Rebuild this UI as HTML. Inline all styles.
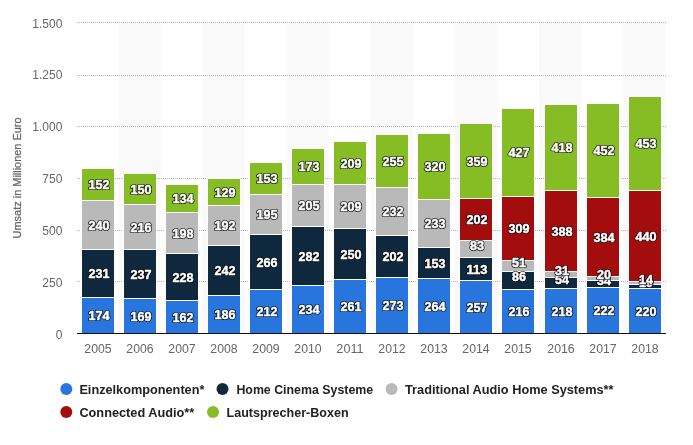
<!DOCTYPE html><html><head><meta charset="utf-8"><title>Chart</title><style>html,body{margin:0;padding:0;background:#fff}svg{display:block}text{font-family:"Liberation Sans",sans-serif}</style></head><body>
<svg width="693" height="445" viewBox="0 0 693 445">
<rect width="693" height="445" fill="#fff"/>
<rect x="118.47" y="22" width="42.07" height="311" fill="#F9F9F9"/>
<rect x="202.61" y="22" width="42.07" height="311" fill="#F9F9F9"/>
<rect x="286.76" y="22" width="42.07" height="311" fill="#F9F9F9"/>
<rect x="370.90" y="22" width="42.07" height="311" fill="#F9F9F9"/>
<rect x="455.04" y="22" width="42.07" height="311" fill="#F9F9F9"/>
<rect x="539.19" y="22" width="42.07" height="311" fill="#F9F9F9"/>
<rect x="623.33" y="22" width="42.07" height="311" fill="#F9F9F9"/>
<line x1="77" x2="666" y1="281.5" y2="281.5" stroke="#B4B4B4" stroke-width="1" stroke-dasharray="1,1"/>
<line x1="77" x2="666" y1="230.5" y2="230.5" stroke="#B4B4B4" stroke-width="1" stroke-dasharray="1,1"/>
<line x1="77" x2="666" y1="178.5" y2="178.5" stroke="#B4B4B4" stroke-width="1" stroke-dasharray="1,1"/>
<line x1="77" x2="666" y1="126.5" y2="126.5" stroke="#B4B4B4" stroke-width="1" stroke-dasharray="1,1"/>
<line x1="77" x2="666" y1="75.5" y2="75.5" stroke="#B4B4B4" stroke-width="1" stroke-dasharray="1,1"/>
<line x1="77" x2="666" y1="22.5" y2="22.5" stroke="#B4B4B4" stroke-width="1" stroke-dasharray="1,1"/>
<text x="62.4" y="338.6" text-anchor="end" font-size="12" fill="#666">0</text>
<text x="62.4" y="286.8" text-anchor="end" font-size="12" fill="#666">250</text>
<text x="62.4" y="234.9" text-anchor="end" font-size="12" fill="#666">500</text>
<text x="62.4" y="183.1" text-anchor="end" font-size="12" fill="#666">750</text>
<text x="62.4" y="131.3" text-anchor="end" font-size="12" fill="#666">1.000</text>
<text x="62.4" y="79.4" text-anchor="end" font-size="12" fill="#666">1.250</text>
<text x="62.4" y="27.6" text-anchor="end" font-size="12" fill="#666">1.500</text>
<text transform="translate(20.5,238.4) rotate(-90)" font-size="11" fill="#666" stroke="#666" stroke-width="0.25" textLength="121" lengthAdjust="spacingAndGlyphs">Umsatz in Millionen Euro</text>
<rect x="81.5" y="297.5" width="33" height="36.0" fill="#2875DD" stroke="#fff" stroke-width="1"/>
<rect x="81.5" y="249.5" width="33" height="48.0" fill="#0F283E" stroke="#fff" stroke-width="1"/>
<rect x="81.5" y="200.5" width="33" height="49.0" fill="#B9B9B9" stroke="#fff" stroke-width="1"/>
<rect x="81.5" y="168.5" width="33" height="32.0" fill="#86BC24" stroke="#fff" stroke-width="1"/>
<rect x="123.5" y="298.5" width="33" height="35.0" fill="#2875DD" stroke="#fff" stroke-width="1"/>
<rect x="123.5" y="249.5" width="33" height="49.0" fill="#0F283E" stroke="#fff" stroke-width="1"/>
<rect x="123.5" y="204.5" width="33" height="45.0" fill="#B9B9B9" stroke="#fff" stroke-width="1"/>
<rect x="123.5" y="173.5" width="33" height="31.0" fill="#86BC24" stroke="#fff" stroke-width="1"/>
<rect x="165.5" y="300.5" width="33" height="33.0" fill="#2875DD" stroke="#fff" stroke-width="1"/>
<rect x="165.5" y="253.5" width="33" height="47.0" fill="#0F283E" stroke="#fff" stroke-width="1"/>
<rect x="165.5" y="212.5" width="33" height="41.0" fill="#B9B9B9" stroke="#fff" stroke-width="1"/>
<rect x="165.5" y="184.5" width="33" height="28.0" fill="#86BC24" stroke="#fff" stroke-width="1"/>
<rect x="207.5" y="295.5" width="33" height="38.0" fill="#2875DD" stroke="#fff" stroke-width="1"/>
<rect x="207.5" y="245.5" width="33" height="50.0" fill="#0F283E" stroke="#fff" stroke-width="1"/>
<rect x="207.5" y="205.5" width="33" height="40.0" fill="#B9B9B9" stroke="#fff" stroke-width="1"/>
<rect x="207.5" y="178.5" width="33" height="27.0" fill="#86BC24" stroke="#fff" stroke-width="1"/>
<rect x="249.5" y="289.5" width="33" height="44.0" fill="#2875DD" stroke="#fff" stroke-width="1"/>
<rect x="249.5" y="234.5" width="33" height="55.0" fill="#0F283E" stroke="#fff" stroke-width="1"/>
<rect x="249.5" y="194.5" width="33" height="40.0" fill="#B9B9B9" stroke="#fff" stroke-width="1"/>
<rect x="249.5" y="162.5" width="33" height="32.0" fill="#86BC24" stroke="#fff" stroke-width="1"/>
<rect x="291.5" y="285.5" width="33" height="48.0" fill="#2875DD" stroke="#fff" stroke-width="1"/>
<rect x="291.5" y="226.5" width="33" height="59.0" fill="#0F283E" stroke="#fff" stroke-width="1"/>
<rect x="291.5" y="184.5" width="33" height="42.0" fill="#B9B9B9" stroke="#fff" stroke-width="1"/>
<rect x="291.5" y="148.5" width="33" height="36.0" fill="#86BC24" stroke="#fff" stroke-width="1"/>
<rect x="333.5" y="279.5" width="33" height="54.0" fill="#2875DD" stroke="#fff" stroke-width="1"/>
<rect x="333.5" y="228.5" width="33" height="51.0" fill="#0F283E" stroke="#fff" stroke-width="1"/>
<rect x="333.5" y="184.5" width="33" height="44.0" fill="#B9B9B9" stroke="#fff" stroke-width="1"/>
<rect x="333.5" y="141.5" width="33" height="43.0" fill="#86BC24" stroke="#fff" stroke-width="1"/>
<rect x="375.5" y="277.5" width="33" height="56.0" fill="#2875DD" stroke="#fff" stroke-width="1"/>
<rect x="375.5" y="235.5" width="33" height="42.0" fill="#0F283E" stroke="#fff" stroke-width="1"/>
<rect x="375.5" y="187.5" width="33" height="48.0" fill="#B9B9B9" stroke="#fff" stroke-width="1"/>
<rect x="375.5" y="134.5" width="33" height="53.0" fill="#86BC24" stroke="#fff" stroke-width="1"/>
<rect x="417.5" y="278.5" width="33" height="55.0" fill="#2875DD" stroke="#fff" stroke-width="1"/>
<rect x="417.5" y="247.5" width="33" height="31.0" fill="#0F283E" stroke="#fff" stroke-width="1"/>
<rect x="417.5" y="199.5" width="33" height="48.0" fill="#B9B9B9" stroke="#fff" stroke-width="1"/>
<rect x="417.5" y="133.5" width="33" height="66.0" fill="#86BC24" stroke="#fff" stroke-width="1"/>
<rect x="459.5" y="280.5" width="33" height="53.0" fill="#2875DD" stroke="#fff" stroke-width="1"/>
<rect x="459.5" y="257.5" width="33" height="23.0" fill="#0F283E" stroke="#fff" stroke-width="1"/>
<rect x="459.5" y="240.5" width="33" height="17.0" fill="#B9B9B9" stroke="#fff" stroke-width="1"/>
<rect x="459.5" y="198.5" width="33" height="42.0" fill="#A40D0D" stroke="#fff" stroke-width="1"/>
<rect x="459.5" y="123.5" width="33" height="75.0" fill="#86BC24" stroke="#fff" stroke-width="1"/>
<rect x="501.5" y="289.5" width="33" height="44.0" fill="#2875DD" stroke="#fff" stroke-width="1"/>
<rect x="501.5" y="271.5" width="33" height="18.0" fill="#0F283E" stroke="#fff" stroke-width="1"/>
<rect x="501.5" y="260.5" width="33" height="11.0" fill="#B9B9B9" stroke="#fff" stroke-width="1"/>
<rect x="501.5" y="196.5" width="33" height="64.0" fill="#A40D0D" stroke="#fff" stroke-width="1"/>
<rect x="501.5" y="108.5" width="33" height="88.0" fill="#86BC24" stroke="#fff" stroke-width="1"/>
<rect x="544.5" y="288.5" width="33" height="45.0" fill="#2875DD" stroke="#fff" stroke-width="1"/>
<rect x="544.5" y="277.5" width="33" height="11.0" fill="#0F283E" stroke="#fff" stroke-width="1"/>
<rect x="544.5" y="271.5" width="33" height="6.0" fill="#B9B9B9" stroke="#fff" stroke-width="1"/>
<rect x="544.5" y="190.5" width="33" height="81.0" fill="#A40D0D" stroke="#fff" stroke-width="1"/>
<rect x="544.5" y="104.5" width="33" height="86.0" fill="#86BC24" stroke="#fff" stroke-width="1"/>
<rect x="586.5" y="287.5" width="33" height="46.0" fill="#2875DD" stroke="#fff" stroke-width="1"/>
<rect x="586.5" y="280.5" width="33" height="7.0" fill="#0F283E" stroke="#fff" stroke-width="1"/>
<rect x="586.5" y="276.5" width="33" height="4.0" fill="#B9B9B9" stroke="#fff" stroke-width="1"/>
<rect x="586.5" y="197.5" width="33" height="79.0" fill="#A40D0D" stroke="#fff" stroke-width="1"/>
<rect x="586.5" y="103.5" width="33" height="94.0" fill="#86BC24" stroke="#fff" stroke-width="1"/>
<rect x="628.5" y="288.5" width="33" height="45.0" fill="#2875DD" stroke="#fff" stroke-width="1"/>
<rect x="628.5" y="284.5" width="33" height="4.0" fill="#0F283E" stroke="#fff" stroke-width="1"/>
<rect x="628.5" y="281.5" width="33" height="3.0" fill="#B9B9B9" stroke="#fff" stroke-width="1"/>
<rect x="628.5" y="190.5" width="33" height="91.0" fill="#A40D0D" stroke="#fff" stroke-width="1"/>
<rect x="628.5" y="96.5" width="33" height="94.0" fill="#86BC24" stroke="#fff" stroke-width="1"/>
<line x1="77" x2="666" y1="333.5" y2="333.5" stroke="#111" stroke-width="1.2"/>
<text x="99.0" y="320.1" text-anchor="middle" font-size="12" font-weight="bold" fill="#000" stroke="#000" stroke-opacity="0.8" stroke-width="2.1" stroke-linejoin="round" textLength="21.0" lengthAdjust="spacingAndGlyphs">174</text>
<text x="99.0" y="320.1" text-anchor="middle" font-size="12" font-weight="bold" fill="#fff" stroke="#fff" stroke-width="0.45" stroke-linejoin="round" textLength="21.0" lengthAdjust="spacingAndGlyphs">174</text>
<text x="99.0" y="278.1" text-anchor="middle" font-size="12" font-weight="bold" fill="#000" stroke="#000" stroke-opacity="0.8" stroke-width="2.1" stroke-linejoin="round" textLength="21.0" lengthAdjust="spacingAndGlyphs">231</text>
<text x="99.0" y="278.1" text-anchor="middle" font-size="12" font-weight="bold" fill="#fff" stroke="#fff" stroke-width="0.45" stroke-linejoin="round" textLength="21.0" lengthAdjust="spacingAndGlyphs">231</text>
<text x="99.0" y="229.6" text-anchor="middle" font-size="12" font-weight="bold" fill="#000" stroke="#000" stroke-opacity="0.8" stroke-width="2.1" stroke-linejoin="round" textLength="21.0" lengthAdjust="spacingAndGlyphs">240</text>
<text x="99.0" y="229.6" text-anchor="middle" font-size="12" font-weight="bold" fill="#fff" stroke="#fff" stroke-width="0.45" stroke-linejoin="round" textLength="21.0" lengthAdjust="spacingAndGlyphs">240</text>
<text x="99.0" y="189.1" text-anchor="middle" font-size="12" font-weight="bold" fill="#000" stroke="#000" stroke-opacity="0.8" stroke-width="2.1" stroke-linejoin="round" textLength="21.0" lengthAdjust="spacingAndGlyphs">152</text>
<text x="99.0" y="189.1" text-anchor="middle" font-size="12" font-weight="bold" fill="#fff" stroke="#fff" stroke-width="0.45" stroke-linejoin="round" textLength="21.0" lengthAdjust="spacingAndGlyphs">152</text>
<text x="141.0" y="320.6" text-anchor="middle" font-size="12" font-weight="bold" fill="#000" stroke="#000" stroke-opacity="0.8" stroke-width="2.1" stroke-linejoin="round" textLength="21.0" lengthAdjust="spacingAndGlyphs">169</text>
<text x="141.0" y="320.6" text-anchor="middle" font-size="12" font-weight="bold" fill="#fff" stroke="#fff" stroke-width="0.45" stroke-linejoin="round" textLength="21.0" lengthAdjust="spacingAndGlyphs">169</text>
<text x="141.0" y="278.6" text-anchor="middle" font-size="12" font-weight="bold" fill="#000" stroke="#000" stroke-opacity="0.8" stroke-width="2.1" stroke-linejoin="round" textLength="21.0" lengthAdjust="spacingAndGlyphs">237</text>
<text x="141.0" y="278.6" text-anchor="middle" font-size="12" font-weight="bold" fill="#fff" stroke="#fff" stroke-width="0.45" stroke-linejoin="round" textLength="21.0" lengthAdjust="spacingAndGlyphs">237</text>
<text x="141.0" y="231.6" text-anchor="middle" font-size="12" font-weight="bold" fill="#000" stroke="#000" stroke-opacity="0.8" stroke-width="2.1" stroke-linejoin="round" textLength="21.0" lengthAdjust="spacingAndGlyphs">216</text>
<text x="141.0" y="231.6" text-anchor="middle" font-size="12" font-weight="bold" fill="#fff" stroke="#fff" stroke-width="0.45" stroke-linejoin="round" textLength="21.0" lengthAdjust="spacingAndGlyphs">216</text>
<text x="141.0" y="193.6" text-anchor="middle" font-size="12" font-weight="bold" fill="#000" stroke="#000" stroke-opacity="0.8" stroke-width="2.1" stroke-linejoin="round" textLength="21.0" lengthAdjust="spacingAndGlyphs">150</text>
<text x="141.0" y="193.6" text-anchor="middle" font-size="12" font-weight="bold" fill="#fff" stroke="#fff" stroke-width="0.45" stroke-linejoin="round" textLength="21.0" lengthAdjust="spacingAndGlyphs">150</text>
<text x="183.0" y="321.6" text-anchor="middle" font-size="12" font-weight="bold" fill="#000" stroke="#000" stroke-opacity="0.8" stroke-width="2.1" stroke-linejoin="round" textLength="21.0" lengthAdjust="spacingAndGlyphs">162</text>
<text x="183.0" y="321.6" text-anchor="middle" font-size="12" font-weight="bold" fill="#fff" stroke="#fff" stroke-width="0.45" stroke-linejoin="round" textLength="21.0" lengthAdjust="spacingAndGlyphs">162</text>
<text x="183.0" y="281.6" text-anchor="middle" font-size="12" font-weight="bold" fill="#000" stroke="#000" stroke-opacity="0.8" stroke-width="2.1" stroke-linejoin="round" textLength="21.0" lengthAdjust="spacingAndGlyphs">228</text>
<text x="183.0" y="281.6" text-anchor="middle" font-size="12" font-weight="bold" fill="#fff" stroke="#fff" stroke-width="0.45" stroke-linejoin="round" textLength="21.0" lengthAdjust="spacingAndGlyphs">228</text>
<text x="183.0" y="237.6" text-anchor="middle" font-size="12" font-weight="bold" fill="#000" stroke="#000" stroke-opacity="0.8" stroke-width="2.1" stroke-linejoin="round" textLength="21.0" lengthAdjust="spacingAndGlyphs">198</text>
<text x="183.0" y="237.6" text-anchor="middle" font-size="12" font-weight="bold" fill="#fff" stroke="#fff" stroke-width="0.45" stroke-linejoin="round" textLength="21.0" lengthAdjust="spacingAndGlyphs">198</text>
<text x="183.0" y="203.1" text-anchor="middle" font-size="12" font-weight="bold" fill="#000" stroke="#000" stroke-opacity="0.8" stroke-width="2.1" stroke-linejoin="round" textLength="21.0" lengthAdjust="spacingAndGlyphs">134</text>
<text x="183.0" y="203.1" text-anchor="middle" font-size="12" font-weight="bold" fill="#fff" stroke="#fff" stroke-width="0.45" stroke-linejoin="round" textLength="21.0" lengthAdjust="spacingAndGlyphs">134</text>
<text x="225.0" y="319.1" text-anchor="middle" font-size="12" font-weight="bold" fill="#000" stroke="#000" stroke-opacity="0.8" stroke-width="2.1" stroke-linejoin="round" textLength="21.0" lengthAdjust="spacingAndGlyphs">186</text>
<text x="225.0" y="319.1" text-anchor="middle" font-size="12" font-weight="bold" fill="#fff" stroke="#fff" stroke-width="0.45" stroke-linejoin="round" textLength="21.0" lengthAdjust="spacingAndGlyphs">186</text>
<text x="225.0" y="275.1" text-anchor="middle" font-size="12" font-weight="bold" fill="#000" stroke="#000" stroke-opacity="0.8" stroke-width="2.1" stroke-linejoin="round" textLength="21.0" lengthAdjust="spacingAndGlyphs">242</text>
<text x="225.0" y="275.1" text-anchor="middle" font-size="12" font-weight="bold" fill="#fff" stroke="#fff" stroke-width="0.45" stroke-linejoin="round" textLength="21.0" lengthAdjust="spacingAndGlyphs">242</text>
<text x="225.0" y="230.1" text-anchor="middle" font-size="12" font-weight="bold" fill="#000" stroke="#000" stroke-opacity="0.8" stroke-width="2.1" stroke-linejoin="round" textLength="21.0" lengthAdjust="spacingAndGlyphs">192</text>
<text x="225.0" y="230.1" text-anchor="middle" font-size="12" font-weight="bold" fill="#fff" stroke="#fff" stroke-width="0.45" stroke-linejoin="round" textLength="21.0" lengthAdjust="spacingAndGlyphs">192</text>
<text x="225.0" y="196.6" text-anchor="middle" font-size="12" font-weight="bold" fill="#000" stroke="#000" stroke-opacity="0.8" stroke-width="2.1" stroke-linejoin="round" textLength="21.0" lengthAdjust="spacingAndGlyphs">129</text>
<text x="225.0" y="196.6" text-anchor="middle" font-size="12" font-weight="bold" fill="#fff" stroke="#fff" stroke-width="0.45" stroke-linejoin="round" textLength="21.0" lengthAdjust="spacingAndGlyphs">129</text>
<text x="267.0" y="316.1" text-anchor="middle" font-size="12" font-weight="bold" fill="#000" stroke="#000" stroke-opacity="0.8" stroke-width="2.1" stroke-linejoin="round" textLength="21.0" lengthAdjust="spacingAndGlyphs">212</text>
<text x="267.0" y="316.1" text-anchor="middle" font-size="12" font-weight="bold" fill="#fff" stroke="#fff" stroke-width="0.45" stroke-linejoin="round" textLength="21.0" lengthAdjust="spacingAndGlyphs">212</text>
<text x="267.0" y="266.6" text-anchor="middle" font-size="12" font-weight="bold" fill="#000" stroke="#000" stroke-opacity="0.8" stroke-width="2.1" stroke-linejoin="round" textLength="21.0" lengthAdjust="spacingAndGlyphs">266</text>
<text x="267.0" y="266.6" text-anchor="middle" font-size="12" font-weight="bold" fill="#fff" stroke="#fff" stroke-width="0.45" stroke-linejoin="round" textLength="21.0" lengthAdjust="spacingAndGlyphs">266</text>
<text x="267.0" y="219.1" text-anchor="middle" font-size="12" font-weight="bold" fill="#000" stroke="#000" stroke-opacity="0.8" stroke-width="2.1" stroke-linejoin="round" textLength="21.0" lengthAdjust="spacingAndGlyphs">195</text>
<text x="267.0" y="219.1" text-anchor="middle" font-size="12" font-weight="bold" fill="#fff" stroke="#fff" stroke-width="0.45" stroke-linejoin="round" textLength="21.0" lengthAdjust="spacingAndGlyphs">195</text>
<text x="267.0" y="183.1" text-anchor="middle" font-size="12" font-weight="bold" fill="#000" stroke="#000" stroke-opacity="0.8" stroke-width="2.1" stroke-linejoin="round" textLength="21.0" lengthAdjust="spacingAndGlyphs">153</text>
<text x="267.0" y="183.1" text-anchor="middle" font-size="12" font-weight="bold" fill="#fff" stroke="#fff" stroke-width="0.45" stroke-linejoin="round" textLength="21.0" lengthAdjust="spacingAndGlyphs">153</text>
<text x="309.0" y="314.1" text-anchor="middle" font-size="12" font-weight="bold" fill="#000" stroke="#000" stroke-opacity="0.8" stroke-width="2.1" stroke-linejoin="round" textLength="21.0" lengthAdjust="spacingAndGlyphs">234</text>
<text x="309.0" y="314.1" text-anchor="middle" font-size="12" font-weight="bold" fill="#fff" stroke="#fff" stroke-width="0.45" stroke-linejoin="round" textLength="21.0" lengthAdjust="spacingAndGlyphs">234</text>
<text x="309.0" y="260.6" text-anchor="middle" font-size="12" font-weight="bold" fill="#000" stroke="#000" stroke-opacity="0.8" stroke-width="2.1" stroke-linejoin="round" textLength="21.0" lengthAdjust="spacingAndGlyphs">282</text>
<text x="309.0" y="260.6" text-anchor="middle" font-size="12" font-weight="bold" fill="#fff" stroke="#fff" stroke-width="0.45" stroke-linejoin="round" textLength="21.0" lengthAdjust="spacingAndGlyphs">282</text>
<text x="309.0" y="210.1" text-anchor="middle" font-size="12" font-weight="bold" fill="#000" stroke="#000" stroke-opacity="0.8" stroke-width="2.1" stroke-linejoin="round" textLength="21.0" lengthAdjust="spacingAndGlyphs">205</text>
<text x="309.0" y="210.1" text-anchor="middle" font-size="12" font-weight="bold" fill="#fff" stroke="#fff" stroke-width="0.45" stroke-linejoin="round" textLength="21.0" lengthAdjust="spacingAndGlyphs">205</text>
<text x="309.0" y="171.1" text-anchor="middle" font-size="12" font-weight="bold" fill="#000" stroke="#000" stroke-opacity="0.8" stroke-width="2.1" stroke-linejoin="round" textLength="21.0" lengthAdjust="spacingAndGlyphs">173</text>
<text x="309.0" y="171.1" text-anchor="middle" font-size="12" font-weight="bold" fill="#fff" stroke="#fff" stroke-width="0.45" stroke-linejoin="round" textLength="21.0" lengthAdjust="spacingAndGlyphs">173</text>
<text x="351.0" y="311.1" text-anchor="middle" font-size="12" font-weight="bold" fill="#000" stroke="#000" stroke-opacity="0.8" stroke-width="2.1" stroke-linejoin="round" textLength="21.0" lengthAdjust="spacingAndGlyphs">261</text>
<text x="351.0" y="311.1" text-anchor="middle" font-size="12" font-weight="bold" fill="#fff" stroke="#fff" stroke-width="0.45" stroke-linejoin="round" textLength="21.0" lengthAdjust="spacingAndGlyphs">261</text>
<text x="351.0" y="258.6" text-anchor="middle" font-size="12" font-weight="bold" fill="#000" stroke="#000" stroke-opacity="0.8" stroke-width="2.1" stroke-linejoin="round" textLength="21.0" lengthAdjust="spacingAndGlyphs">250</text>
<text x="351.0" y="258.6" text-anchor="middle" font-size="12" font-weight="bold" fill="#fff" stroke="#fff" stroke-width="0.45" stroke-linejoin="round" textLength="21.0" lengthAdjust="spacingAndGlyphs">250</text>
<text x="351.0" y="211.1" text-anchor="middle" font-size="12" font-weight="bold" fill="#000" stroke="#000" stroke-opacity="0.8" stroke-width="2.1" stroke-linejoin="round" textLength="21.0" lengthAdjust="spacingAndGlyphs">209</text>
<text x="351.0" y="211.1" text-anchor="middle" font-size="12" font-weight="bold" fill="#fff" stroke="#fff" stroke-width="0.45" stroke-linejoin="round" textLength="21.0" lengthAdjust="spacingAndGlyphs">209</text>
<text x="351.0" y="167.6" text-anchor="middle" font-size="12" font-weight="bold" fill="#000" stroke="#000" stroke-opacity="0.8" stroke-width="2.1" stroke-linejoin="round" textLength="21.0" lengthAdjust="spacingAndGlyphs">209</text>
<text x="351.0" y="167.6" text-anchor="middle" font-size="12" font-weight="bold" fill="#fff" stroke="#fff" stroke-width="0.45" stroke-linejoin="round" textLength="21.0" lengthAdjust="spacingAndGlyphs">209</text>
<text x="393.0" y="310.1" text-anchor="middle" font-size="12" font-weight="bold" fill="#000" stroke="#000" stroke-opacity="0.8" stroke-width="2.1" stroke-linejoin="round" textLength="21.0" lengthAdjust="spacingAndGlyphs">273</text>
<text x="393.0" y="310.1" text-anchor="middle" font-size="12" font-weight="bold" fill="#fff" stroke="#fff" stroke-width="0.45" stroke-linejoin="round" textLength="21.0" lengthAdjust="spacingAndGlyphs">273</text>
<text x="393.0" y="261.1" text-anchor="middle" font-size="12" font-weight="bold" fill="#000" stroke="#000" stroke-opacity="0.8" stroke-width="2.1" stroke-linejoin="round" textLength="21.0" lengthAdjust="spacingAndGlyphs">202</text>
<text x="393.0" y="261.1" text-anchor="middle" font-size="12" font-weight="bold" fill="#fff" stroke="#fff" stroke-width="0.45" stroke-linejoin="round" textLength="21.0" lengthAdjust="spacingAndGlyphs">202</text>
<text x="393.0" y="216.1" text-anchor="middle" font-size="12" font-weight="bold" fill="#000" stroke="#000" stroke-opacity="0.8" stroke-width="2.1" stroke-linejoin="round" textLength="21.0" lengthAdjust="spacingAndGlyphs">232</text>
<text x="393.0" y="216.1" text-anchor="middle" font-size="12" font-weight="bold" fill="#fff" stroke="#fff" stroke-width="0.45" stroke-linejoin="round" textLength="21.0" lengthAdjust="spacingAndGlyphs">232</text>
<text x="393.0" y="165.6" text-anchor="middle" font-size="12" font-weight="bold" fill="#000" stroke="#000" stroke-opacity="0.8" stroke-width="2.1" stroke-linejoin="round" textLength="21.0" lengthAdjust="spacingAndGlyphs">255</text>
<text x="393.0" y="165.6" text-anchor="middle" font-size="12" font-weight="bold" fill="#fff" stroke="#fff" stroke-width="0.45" stroke-linejoin="round" textLength="21.0" lengthAdjust="spacingAndGlyphs">255</text>
<text x="435.0" y="310.6" text-anchor="middle" font-size="12" font-weight="bold" fill="#000" stroke="#000" stroke-opacity="0.8" stroke-width="2.1" stroke-linejoin="round" textLength="21.0" lengthAdjust="spacingAndGlyphs">264</text>
<text x="435.0" y="310.6" text-anchor="middle" font-size="12" font-weight="bold" fill="#fff" stroke="#fff" stroke-width="0.45" stroke-linejoin="round" textLength="21.0" lengthAdjust="spacingAndGlyphs">264</text>
<text x="435.0" y="267.6" text-anchor="middle" font-size="12" font-weight="bold" fill="#000" stroke="#000" stroke-opacity="0.8" stroke-width="2.1" stroke-linejoin="round" textLength="21.0" lengthAdjust="spacingAndGlyphs">153</text>
<text x="435.0" y="267.6" text-anchor="middle" font-size="12" font-weight="bold" fill="#fff" stroke="#fff" stroke-width="0.45" stroke-linejoin="round" textLength="21.0" lengthAdjust="spacingAndGlyphs">153</text>
<text x="435.0" y="228.1" text-anchor="middle" font-size="12" font-weight="bold" fill="#000" stroke="#000" stroke-opacity="0.8" stroke-width="2.1" stroke-linejoin="round" textLength="21.0" lengthAdjust="spacingAndGlyphs">233</text>
<text x="435.0" y="228.1" text-anchor="middle" font-size="12" font-weight="bold" fill="#fff" stroke="#fff" stroke-width="0.45" stroke-linejoin="round" textLength="21.0" lengthAdjust="spacingAndGlyphs">233</text>
<text x="435.0" y="171.1" text-anchor="middle" font-size="12" font-weight="bold" fill="#000" stroke="#000" stroke-opacity="0.8" stroke-width="2.1" stroke-linejoin="round" textLength="21.0" lengthAdjust="spacingAndGlyphs">320</text>
<text x="435.0" y="171.1" text-anchor="middle" font-size="12" font-weight="bold" fill="#fff" stroke="#fff" stroke-width="0.45" stroke-linejoin="round" textLength="21.0" lengthAdjust="spacingAndGlyphs">320</text>
<text x="477.0" y="311.6" text-anchor="middle" font-size="12" font-weight="bold" fill="#000" stroke="#000" stroke-opacity="0.8" stroke-width="2.1" stroke-linejoin="round" textLength="21.0" lengthAdjust="spacingAndGlyphs">257</text>
<text x="477.0" y="311.6" text-anchor="middle" font-size="12" font-weight="bold" fill="#fff" stroke="#fff" stroke-width="0.45" stroke-linejoin="round" textLength="21.0" lengthAdjust="spacingAndGlyphs">257</text>
<text x="477.0" y="273.6" text-anchor="middle" font-size="12" font-weight="bold" fill="#000" stroke="#000" stroke-opacity="0.8" stroke-width="2.1" stroke-linejoin="round" textLength="21.0" lengthAdjust="spacingAndGlyphs">113</text>
<text x="477.0" y="273.6" text-anchor="middle" font-size="12" font-weight="bold" fill="#fff" stroke="#fff" stroke-width="0.45" stroke-linejoin="round" textLength="21.0" lengthAdjust="spacingAndGlyphs">113</text>
<text x="477.0" y="249.7" text-anchor="middle" font-size="12" font-weight="bold" fill="#000" stroke="#000" stroke-opacity="0.8" stroke-width="2.1" stroke-linejoin="round" textLength="14.0" lengthAdjust="spacingAndGlyphs">83</text>
<text x="477.0" y="249.7" text-anchor="middle" font-size="12" font-weight="bold" fill="#fff" stroke="#fff" stroke-width="0.45" stroke-linejoin="round" textLength="14.0" lengthAdjust="spacingAndGlyphs">83</text>
<text x="477.0" y="224.1" text-anchor="middle" font-size="12" font-weight="bold" fill="#000" stroke="#000" stroke-opacity="0.8" stroke-width="2.1" stroke-linejoin="round" textLength="21.0" lengthAdjust="spacingAndGlyphs">202</text>
<text x="477.0" y="224.1" text-anchor="middle" font-size="12" font-weight="bold" fill="#fff" stroke="#fff" stroke-width="0.45" stroke-linejoin="round" textLength="21.0" lengthAdjust="spacingAndGlyphs">202</text>
<text x="477.0" y="165.6" text-anchor="middle" font-size="12" font-weight="bold" fill="#000" stroke="#000" stroke-opacity="0.8" stroke-width="2.1" stroke-linejoin="round" textLength="21.0" lengthAdjust="spacingAndGlyphs">359</text>
<text x="477.0" y="165.6" text-anchor="middle" font-size="12" font-weight="bold" fill="#fff" stroke="#fff" stroke-width="0.45" stroke-linejoin="round" textLength="21.0" lengthAdjust="spacingAndGlyphs">359</text>
<text x="519.0" y="316.1" text-anchor="middle" font-size="12" font-weight="bold" fill="#000" stroke="#000" stroke-opacity="0.8" stroke-width="2.1" stroke-linejoin="round" textLength="21.0" lengthAdjust="spacingAndGlyphs">216</text>
<text x="519.0" y="316.1" text-anchor="middle" font-size="12" font-weight="bold" fill="#fff" stroke="#fff" stroke-width="0.45" stroke-linejoin="round" textLength="21.0" lengthAdjust="spacingAndGlyphs">216</text>
<text x="519.0" y="281.2" text-anchor="middle" font-size="12" font-weight="bold" fill="#000" stroke="#000" stroke-opacity="0.8" stroke-width="2.1" stroke-linejoin="round" textLength="14.0" lengthAdjust="spacingAndGlyphs">86</text>
<text x="519.0" y="281.2" text-anchor="middle" font-size="12" font-weight="bold" fill="#fff" stroke="#fff" stroke-width="0.45" stroke-linejoin="round" textLength="14.0" lengthAdjust="spacingAndGlyphs">86</text>
<text x="519.0" y="266.7" text-anchor="middle" font-size="12" font-weight="bold" fill="#000" stroke="#000" stroke-opacity="0.8" stroke-width="2.1" stroke-linejoin="round" textLength="14.0" lengthAdjust="spacingAndGlyphs">51</text>
<text x="519.0" y="266.7" text-anchor="middle" font-size="12" font-weight="bold" fill="#fff" stroke="#fff" stroke-width="0.45" stroke-linejoin="round" textLength="14.0" lengthAdjust="spacingAndGlyphs">51</text>
<text x="519.0" y="233.1" text-anchor="middle" font-size="12" font-weight="bold" fill="#000" stroke="#000" stroke-opacity="0.8" stroke-width="2.1" stroke-linejoin="round" textLength="21.0" lengthAdjust="spacingAndGlyphs">309</text>
<text x="519.0" y="233.1" text-anchor="middle" font-size="12" font-weight="bold" fill="#fff" stroke="#fff" stroke-width="0.45" stroke-linejoin="round" textLength="21.0" lengthAdjust="spacingAndGlyphs">309</text>
<text x="519.0" y="157.1" text-anchor="middle" font-size="12" font-weight="bold" fill="#000" stroke="#000" stroke-opacity="0.8" stroke-width="2.1" stroke-linejoin="round" textLength="21.0" lengthAdjust="spacingAndGlyphs">427</text>
<text x="519.0" y="157.1" text-anchor="middle" font-size="12" font-weight="bold" fill="#fff" stroke="#fff" stroke-width="0.45" stroke-linejoin="round" textLength="21.0" lengthAdjust="spacingAndGlyphs">427</text>
<text x="562.0" y="315.6" text-anchor="middle" font-size="12" font-weight="bold" fill="#000" stroke="#000" stroke-opacity="0.8" stroke-width="2.1" stroke-linejoin="round" textLength="21.0" lengthAdjust="spacingAndGlyphs">218</text>
<text x="562.0" y="315.6" text-anchor="middle" font-size="12" font-weight="bold" fill="#fff" stroke="#fff" stroke-width="0.45" stroke-linejoin="round" textLength="21.0" lengthAdjust="spacingAndGlyphs">218</text>
<text x="562.0" y="283.7" text-anchor="middle" font-size="12" font-weight="bold" fill="#000" stroke="#000" stroke-opacity="0.8" stroke-width="2.1" stroke-linejoin="round" textLength="14.0" lengthAdjust="spacingAndGlyphs">54</text>
<text x="562.0" y="283.7" text-anchor="middle" font-size="12" font-weight="bold" fill="#fff" stroke="#fff" stroke-width="0.45" stroke-linejoin="round" textLength="14.0" lengthAdjust="spacingAndGlyphs">54</text>
<text x="562.0" y="275.2" text-anchor="middle" font-size="12" font-weight="bold" fill="#000" stroke="#000" stroke-opacity="0.8" stroke-width="2.1" stroke-linejoin="round" textLength="14.0" lengthAdjust="spacingAndGlyphs">31</text>
<text x="562.0" y="275.2" text-anchor="middle" font-size="12" font-weight="bold" fill="#fff" stroke="#fff" stroke-width="0.45" stroke-linejoin="round" textLength="14.0" lengthAdjust="spacingAndGlyphs">31</text>
<text x="562.0" y="235.6" text-anchor="middle" font-size="12" font-weight="bold" fill="#000" stroke="#000" stroke-opacity="0.8" stroke-width="2.1" stroke-linejoin="round" textLength="21.0" lengthAdjust="spacingAndGlyphs">388</text>
<text x="562.0" y="235.6" text-anchor="middle" font-size="12" font-weight="bold" fill="#fff" stroke="#fff" stroke-width="0.45" stroke-linejoin="round" textLength="21.0" lengthAdjust="spacingAndGlyphs">388</text>
<text x="562.0" y="152.1" text-anchor="middle" font-size="12" font-weight="bold" fill="#000" stroke="#000" stroke-opacity="0.8" stroke-width="2.1" stroke-linejoin="round" textLength="21.0" lengthAdjust="spacingAndGlyphs">418</text>
<text x="562.0" y="152.1" text-anchor="middle" font-size="12" font-weight="bold" fill="#fff" stroke="#fff" stroke-width="0.45" stroke-linejoin="round" textLength="21.0" lengthAdjust="spacingAndGlyphs">418</text>
<text x="604.0" y="315.1" text-anchor="middle" font-size="12" font-weight="bold" fill="#000" stroke="#000" stroke-opacity="0.8" stroke-width="2.1" stroke-linejoin="round" textLength="21.0" lengthAdjust="spacingAndGlyphs">222</text>
<text x="604.0" y="315.1" text-anchor="middle" font-size="12" font-weight="bold" fill="#fff" stroke="#fff" stroke-width="0.45" stroke-linejoin="round" textLength="21.0" lengthAdjust="spacingAndGlyphs">222</text>
<text x="604.0" y="284.7" text-anchor="middle" font-size="12" font-weight="bold" fill="#000" stroke="#000" stroke-opacity="0.8" stroke-width="2.1" stroke-linejoin="round" textLength="14.0" lengthAdjust="spacingAndGlyphs">34</text>
<text x="604.0" y="284.7" text-anchor="middle" font-size="12" font-weight="bold" fill="#fff" stroke="#fff" stroke-width="0.45" stroke-linejoin="round" textLength="14.0" lengthAdjust="spacingAndGlyphs">34</text>
<text x="604.0" y="279.2" text-anchor="middle" font-size="12" font-weight="bold" fill="#000" stroke="#000" stroke-opacity="0.8" stroke-width="2.1" stroke-linejoin="round" textLength="14.0" lengthAdjust="spacingAndGlyphs">20</text>
<text x="604.0" y="279.2" text-anchor="middle" font-size="12" font-weight="bold" fill="#fff" stroke="#fff" stroke-width="0.45" stroke-linejoin="round" textLength="14.0" lengthAdjust="spacingAndGlyphs">20</text>
<text x="604.0" y="241.6" text-anchor="middle" font-size="12" font-weight="bold" fill="#000" stroke="#000" stroke-opacity="0.8" stroke-width="2.1" stroke-linejoin="round" textLength="21.0" lengthAdjust="spacingAndGlyphs">384</text>
<text x="604.0" y="241.6" text-anchor="middle" font-size="12" font-weight="bold" fill="#fff" stroke="#fff" stroke-width="0.45" stroke-linejoin="round" textLength="21.0" lengthAdjust="spacingAndGlyphs">384</text>
<text x="604.0" y="155.1" text-anchor="middle" font-size="12" font-weight="bold" fill="#000" stroke="#000" stroke-opacity="0.8" stroke-width="2.1" stroke-linejoin="round" textLength="21.0" lengthAdjust="spacingAndGlyphs">452</text>
<text x="604.0" y="155.1" text-anchor="middle" font-size="12" font-weight="bold" fill="#fff" stroke="#fff" stroke-width="0.45" stroke-linejoin="round" textLength="21.0" lengthAdjust="spacingAndGlyphs">452</text>
<text x="646.0" y="315.6" text-anchor="middle" font-size="12" font-weight="bold" fill="#000" stroke="#000" stroke-opacity="0.8" stroke-width="2.1" stroke-linejoin="round" textLength="21.0" lengthAdjust="spacingAndGlyphs">220</text>
<text x="646.0" y="315.6" text-anchor="middle" font-size="12" font-weight="bold" fill="#fff" stroke="#fff" stroke-width="0.45" stroke-linejoin="round" textLength="21.0" lengthAdjust="spacingAndGlyphs">220</text>
<text x="646.0" y="287.2" text-anchor="middle" font-size="12" font-weight="bold" fill="#000" stroke="#000" stroke-opacity="0.8" stroke-width="2.1" stroke-linejoin="round" textLength="14.0" lengthAdjust="spacingAndGlyphs">19</text>
<text x="646.0" y="287.2" text-anchor="middle" font-size="12" font-weight="bold" fill="#fff" stroke="#fff" stroke-width="0.45" stroke-linejoin="round" textLength="14.0" lengthAdjust="spacingAndGlyphs">19</text>
<text x="646.0" y="283.7" text-anchor="middle" font-size="12" font-weight="bold" fill="#000" stroke="#000" stroke-opacity="0.8" stroke-width="2.1" stroke-linejoin="round" textLength="14.0" lengthAdjust="spacingAndGlyphs">14</text>
<text x="646.0" y="283.7" text-anchor="middle" font-size="12" font-weight="bold" fill="#fff" stroke="#fff" stroke-width="0.45" stroke-linejoin="round" textLength="14.0" lengthAdjust="spacingAndGlyphs">14</text>
<text x="646.0" y="240.6" text-anchor="middle" font-size="12" font-weight="bold" fill="#000" stroke="#000" stroke-opacity="0.8" stroke-width="2.1" stroke-linejoin="round" textLength="21.0" lengthAdjust="spacingAndGlyphs">440</text>
<text x="646.0" y="240.6" text-anchor="middle" font-size="12" font-weight="bold" fill="#fff" stroke="#fff" stroke-width="0.45" stroke-linejoin="round" textLength="21.0" lengthAdjust="spacingAndGlyphs">440</text>
<text x="646.0" y="148.1" text-anchor="middle" font-size="12" font-weight="bold" fill="#000" stroke="#000" stroke-opacity="0.8" stroke-width="2.1" stroke-linejoin="round" textLength="21.0" lengthAdjust="spacingAndGlyphs">453</text>
<text x="646.0" y="148.1" text-anchor="middle" font-size="12" font-weight="bold" fill="#fff" stroke="#fff" stroke-width="0.45" stroke-linejoin="round" textLength="21.0" lengthAdjust="spacingAndGlyphs">453</text>
<text x="98.0" y="353.2" text-anchor="middle" font-size="12" fill="#666" textLength="27.3" lengthAdjust="spacingAndGlyphs">2005</text>
<text x="140.0" y="353.2" text-anchor="middle" font-size="12" fill="#666" textLength="27.3" lengthAdjust="spacingAndGlyphs">2006</text>
<text x="182.0" y="353.2" text-anchor="middle" font-size="12" fill="#666" textLength="27.3" lengthAdjust="spacingAndGlyphs">2007</text>
<text x="224.0" y="353.2" text-anchor="middle" font-size="12" fill="#666" textLength="27.3" lengthAdjust="spacingAndGlyphs">2008</text>
<text x="266.0" y="353.2" text-anchor="middle" font-size="12" fill="#666" textLength="27.3" lengthAdjust="spacingAndGlyphs">2009</text>
<text x="308.0" y="353.2" text-anchor="middle" font-size="12" fill="#666" textLength="27.3" lengthAdjust="spacingAndGlyphs">2010</text>
<text x="350.0" y="353.2" text-anchor="middle" font-size="12" fill="#666" textLength="27.3" lengthAdjust="spacingAndGlyphs">2011</text>
<text x="392.0" y="353.2" text-anchor="middle" font-size="12" fill="#666" textLength="27.3" lengthAdjust="spacingAndGlyphs">2012</text>
<text x="434.0" y="353.2" text-anchor="middle" font-size="12" fill="#666" textLength="27.3" lengthAdjust="spacingAndGlyphs">2013</text>
<text x="476.0" y="353.2" text-anchor="middle" font-size="12" fill="#666" textLength="27.3" lengthAdjust="spacingAndGlyphs">2014</text>
<text x="518.0" y="353.2" text-anchor="middle" font-size="12" fill="#666" textLength="27.3" lengthAdjust="spacingAndGlyphs">2015</text>
<text x="561.0" y="353.2" text-anchor="middle" font-size="12" fill="#666" textLength="27.3" lengthAdjust="spacingAndGlyphs">2016</text>
<text x="603.0" y="353.2" text-anchor="middle" font-size="12" fill="#666" textLength="27.3" lengthAdjust="spacingAndGlyphs">2017</text>
<text x="645.0" y="353.2" text-anchor="middle" font-size="12" fill="#666" textLength="27.3" lengthAdjust="spacingAndGlyphs">2018</text>
<circle cx="66.3" cy="389" r="6" fill="#2875DD"/>
<text x="79.4" y="393.9" font-size="12" font-weight="bold" fill="#222" textLength="125.0" lengthAdjust="spacingAndGlyphs">Einzelkomponenten*</text>
<circle cx="222.5" cy="389" r="6" fill="#0F283E"/>
<text x="236.4" y="393.9" font-size="12" font-weight="bold" fill="#222" textLength="136.8" lengthAdjust="spacingAndGlyphs">Home Cinema Systeme</text>
<circle cx="391.6" cy="389" r="6" fill="#B9B9B9"/>
<text x="405" y="393.9" font-size="12" font-weight="bold" fill="#222" textLength="208.5" lengthAdjust="spacingAndGlyphs">Traditional Audio Home Systems**</text>
<circle cx="66.3" cy="412" r="6" fill="#A40D0D"/>
<text x="79.4" y="416.9" font-size="12" font-weight="bold" fill="#222" textLength="114.9" lengthAdjust="spacingAndGlyphs">Connected Audio**</text>
<circle cx="213" cy="412" r="6" fill="#86BC24"/>
<text x="226.5" y="416.9" font-size="12" font-weight="bold" fill="#222" textLength="122.1" lengthAdjust="spacingAndGlyphs">Lautsprecher-Boxen</text>
</svg></body></html>
